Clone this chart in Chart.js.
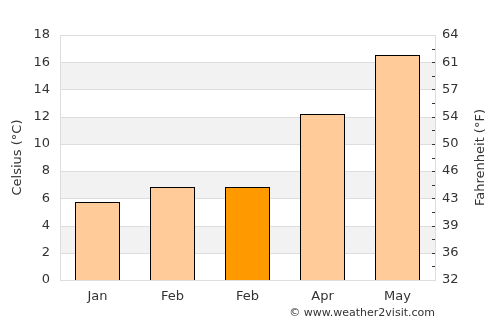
<!DOCTYPE html>
<html>
<head>
<meta charset="utf-8">
<script src="https://cdn.jsdelivr.net/npm/chart.js@4"></script>
<style>
  html, body { margin: 0; padding: 0; background: #fff; }
  #wrap { position: relative; width: 500px; height: 325px; }
</style>
</head>
<body>
<div id="wrap"><canvas id="chart" width="500" height="325"></canvas></div>
<script>
const months = ["Jan", "Feb", "Feb", "Apr", "May"];
const celsius = [5.7, 6.8, 6.8, 12.2, 16.5];
const barColors = ["#FFCC99", "#FFCC99", "#FF9900", "#FFCC99", "#FFCC99"];
const fahrenheitLabels = ["32", "36", "39", "43", "46", "50", "54", "57", "61", "64"];

const FONT = "'DejaVu Sans', sans-serif";

// grey bands, right-side tick marks, titles and credit
const extras = {
  id: "extras",
  beforeDatasetsDraw(chart) {
    const { ctx, chartArea: a, scales } = chart;
    const y = scales.y;
    ctx.save();
    ctx.fillStyle = "#f2f2f2";
    for (let v = 2; v < 18; v += 4) {
      const top = Math.round(y.getPixelForValue(v + 2));
      const bot = Math.round(y.getPixelForValue(v));
      ctx.fillRect(a.left, top, a.right - a.left, bot - top);
    }
    ctx.strokeStyle = "#dddddd";
    ctx.lineWidth = 1;
    for (let v = 0; v <= 18; v += 2) {
      const py = Math.round(y.getPixelForValue(v)) + 0.5;
      ctx.beginPath();
      ctx.moveTo(a.left, py);
      ctx.lineTo(a.right, py);
      ctx.stroke();
    }
    ctx.beginPath();
    ctx.moveTo(a.left + 0.5, a.top);
    ctx.lineTo(a.left + 0.5, a.bottom);
    ctx.moveTo(a.right + 0.5, a.top);
    ctx.lineTo(a.right + 0.5, a.bottom);
    ctx.stroke();
    ctx.restore();
    // snap bars to whole pixels so the black outline stays crisp
    chart.getDatasetMeta(0).data.forEach(el => {
      el.x = Math.round(el.x - el.width / 2) + el.width / 2;
      el.width = Math.round(el.width);
      el.y = Math.round(el.y);
      el.base = Math.round(el.base) + 1;
    });
  },
  afterDraw(chart) {
    const { ctx, chartArea: a, scales } = chart;
    const y = scales.y;
    ctx.save();
    ctx.strokeStyle = "#333";
    ctx.lineWidth = 1;
    for (let v = 1; v < 18; v += 1) {
      const py = Math.round(y.getPixelForValue(v)) + 0.5;
      ctx.beginPath();
      ctx.moveTo(a.right - 3, py);
      ctx.lineTo(a.right, py);
      ctx.stroke();
    }
    ctx.fillStyle = "#333";
    ctx.font = "13px " + FONT;
    ctx.textAlign = "center";
    ctx.textBaseline = "middle";
    const mid = (a.top + a.bottom) / 2;
    ctx.translate(18, mid);
    ctx.rotate(-Math.PI / 2);
    ctx.fillText("Celsius (°C)", 0, 0);
    ctx.setTransform(1, 0, 0, 1, 0, 0);
    ctx.translate(481, mid);
    ctx.rotate(-Math.PI / 2);
    ctx.fillText("Fahrenheit (°F)", 0, 0);
    ctx.setTransform(1, 0, 0, 1, 0, 0);
    ctx.font = "11px " + FONT;
    ctx.textAlign = "right";
    ctx.fillText("© www.weather2visit.com", 435, 313);
    ctx.restore();
  }
};

new Chart(document.getElementById("chart"), {
  type: "bar",
  data: {
    labels: months,
    datasets: [{
      data: celsius,
      backgroundColor: barColors,
      borderColor: "#000",
      borderWidth: 1,
      borderSkipped: "bottom",
      inflateAmount: 0,
      barPercentage: 0.6,
      categoryPercentage: 1.0
    }]
  },
  options: {
    responsive: false,
    animation: false,
    devicePixelRatio: 1,
    layout: { padding: { top: 35, bottom: 0, left: 0, right: 0 } },
    plugins: { legend: { display: false }, tooltip: { enabled: false } },
    scales: {
      x: {
        grid: { display: false },
        border: { color: "#dddddd" },
        ticks: { color: "#333", font: { family: FONT, size: 13 }, padding: 1 },
        afterFit(s) { s.height = 45; }
      },
      y: {
        position: "left",
        min: 0, max: 18,
        grid: { display: false },
        border: { display: false },
        ticks: { stepSize: 2, color: "#333", font: { family: FONT, size: 13 }, padding: 2 },
        afterFit(s) { s.width = 60; }
      },
      y2: {
        position: "right",
        min: 0, max: 18,
        grid: { display: false },
        border: { display: false },
        ticks: {
          stepSize: 2, color: "#333", font: { family: FONT, size: 13 }, padding: -1,
          callback: (v, i) => fahrenheitLabels[i]
        },
        afterFit(s) { s.width = 65; }
      }
    }
  },
  plugins: [extras]
});
</script>
</body>
</html>
